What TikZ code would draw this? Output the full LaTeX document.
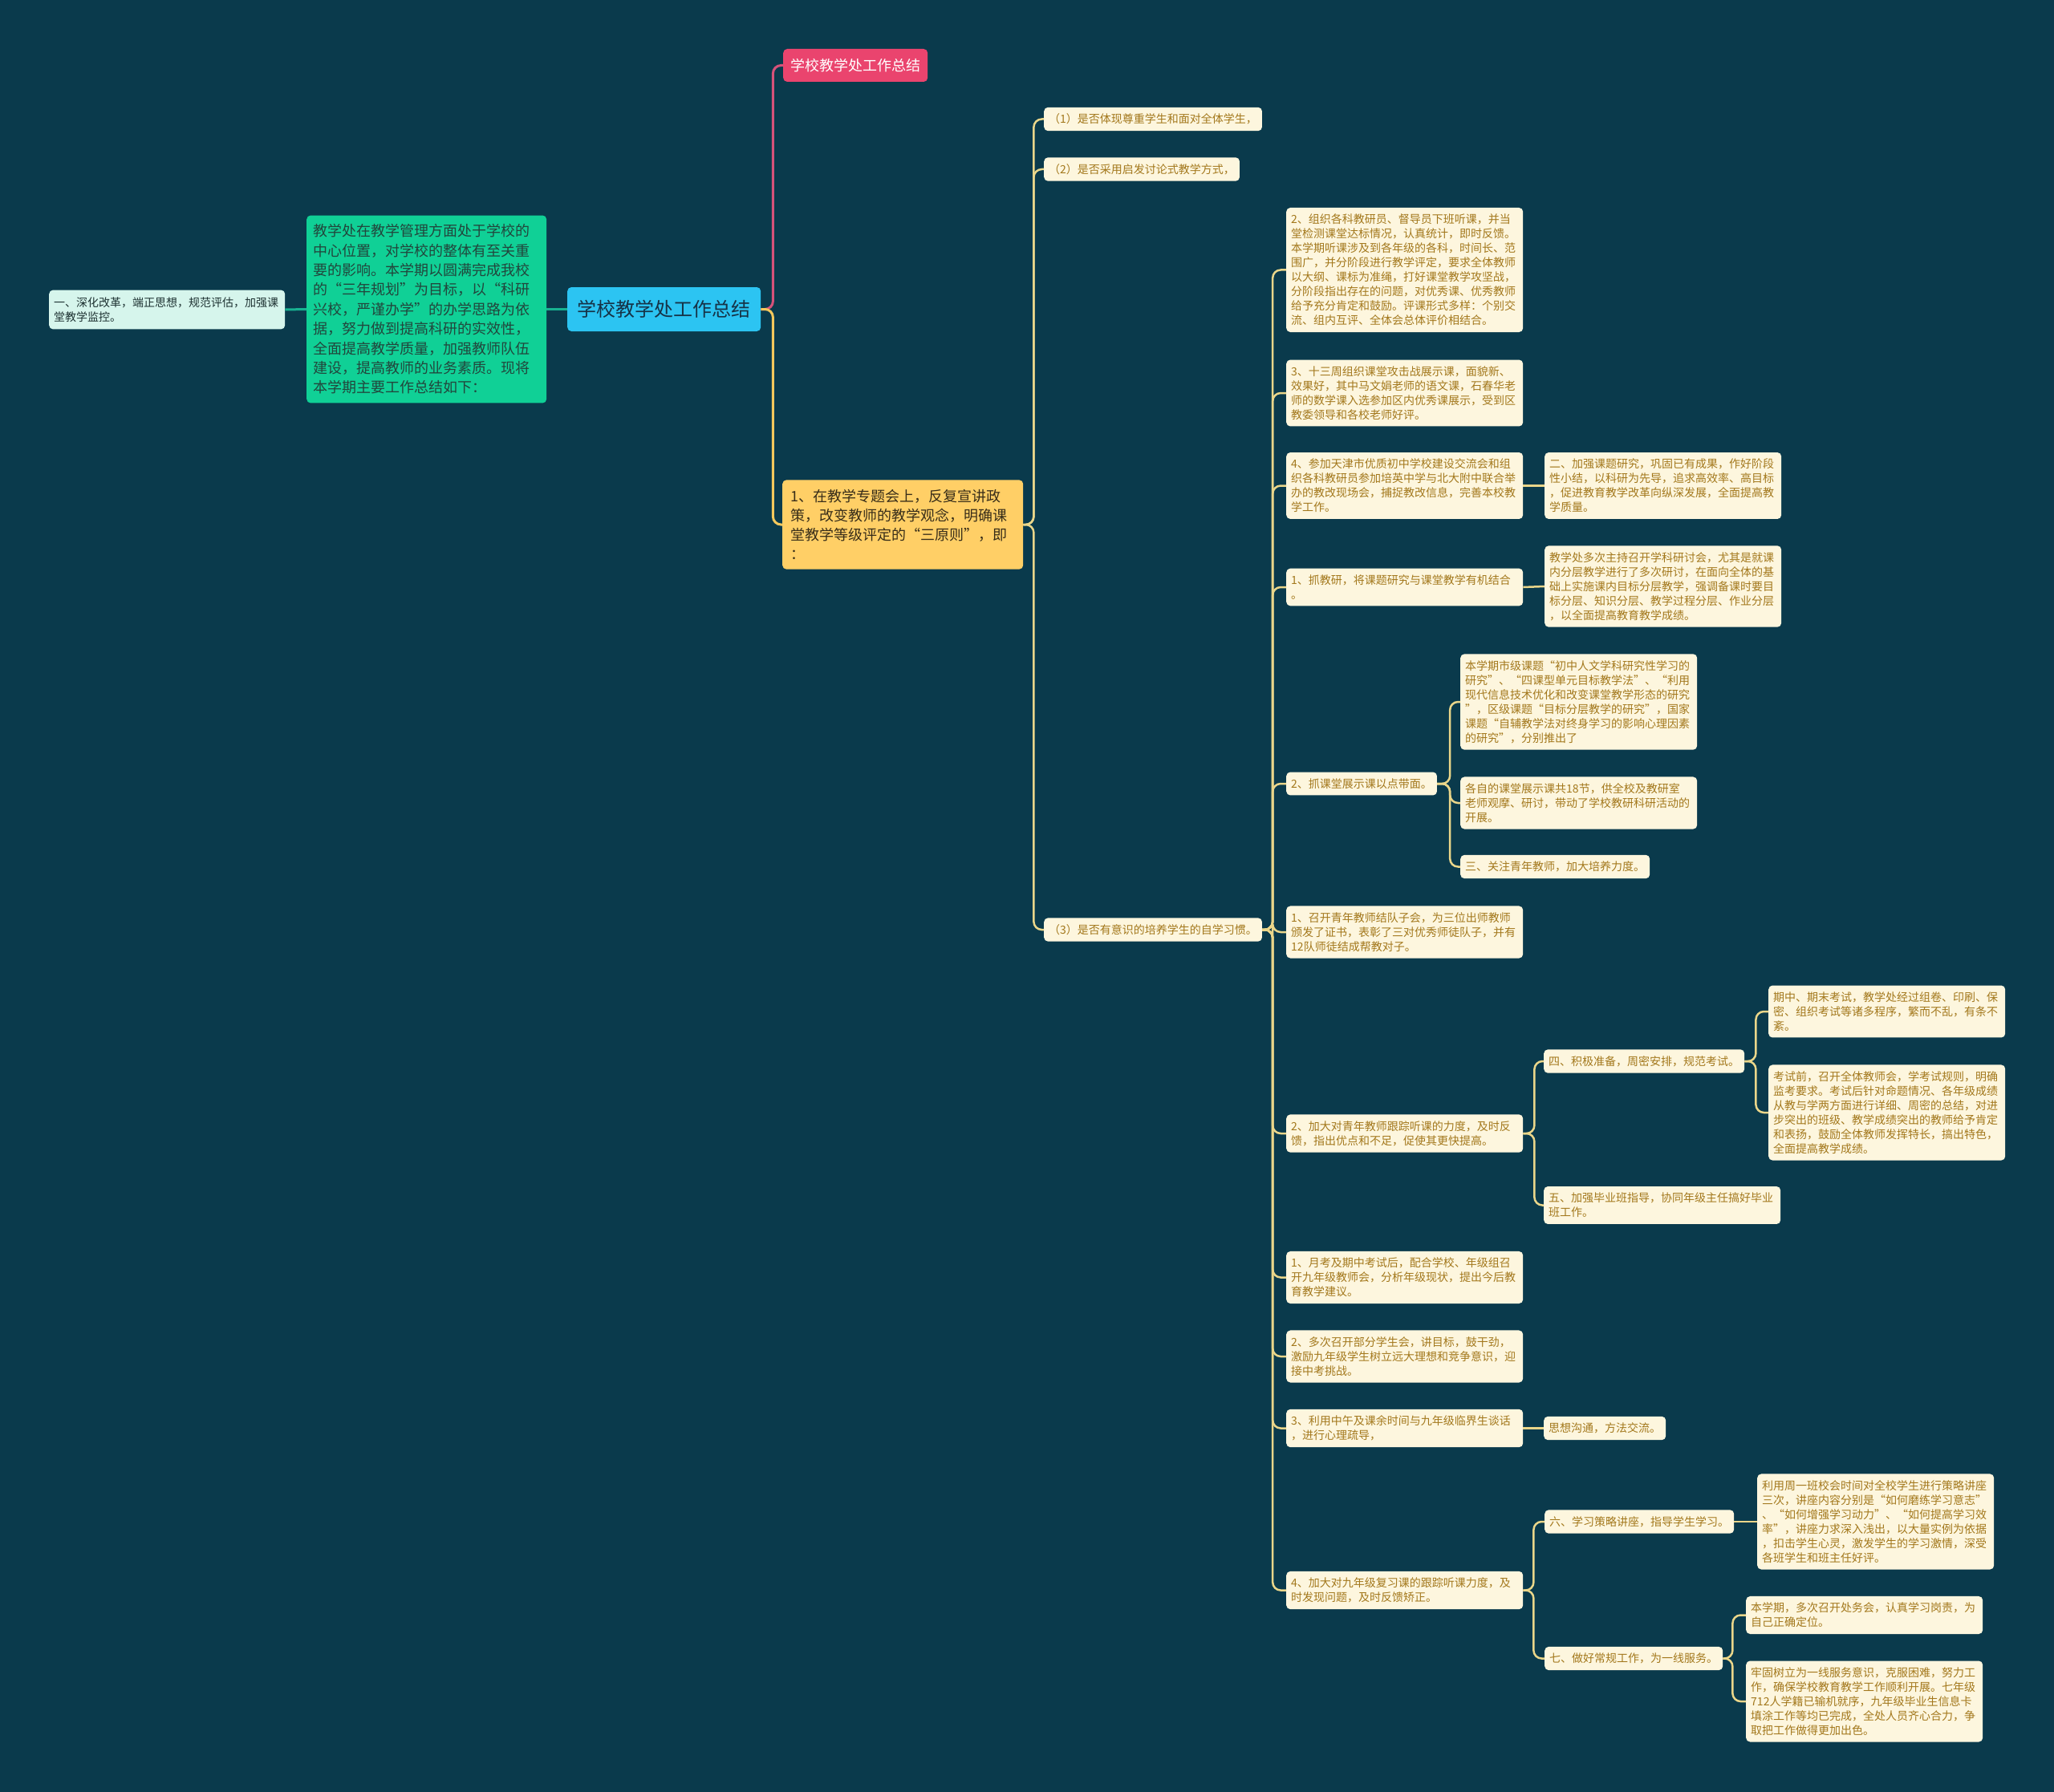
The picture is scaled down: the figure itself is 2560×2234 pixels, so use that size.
\documentclass[tikz,border=0pt]{standalone}
\usepackage{fontspec}
\setmainfont{Noto Sans CJK SC}

\definecolor{bgteal}{RGB}{10,58,76}
\definecolor{rootblue}{RGB}{44,196,242}
\definecolor{rootink}{RGB}{22,50,70}
\definecolor{titlered}{RGB}{234,68,110}
\definecolor{introgreen}{RGB}{16,208,150}
\definecolor{introink}{RGB}{34,70,60}
\definecolor{mintfill}{RGB}{214,245,236}
\definecolor{mintink}{RGB}{30,50,50}
\definecolor{mainyellow}{RGB}{255,207,102}
\definecolor{mainink}{RGB}{55,45,25}
\definecolor{creamfill}{RGB}{253,246,222}
\definecolor{creamink}{RGB}{163,120,28}
\definecolor{greenline}{RGB}{24,178,145}
\definecolor{pinkline}{RGB}{214,82,122}
\definecolor{yellowline}{RGB}{244,200,92}
\definecolor{beigeline}{RGB}{234,214,138}

\begin{document}
\begin{tikzpicture}[x=1pt, y=-1pt,
  card/.style={anchor=west, rounded corners=5pt},
  rootnode/.style={card, fill=rootblue, text=rootink, minimum width=241pt, minimum height=55pt, font=\fontsize{24}{28}\selectfont},
  titlenode/.style={card, fill=titlered, text=white, minimum width=180pt, minimum height=41pt, font=\fontsize{18}{22}\selectfont},
  intronode/.style={card, fill=introgreen, text=introink, text width=283pt, align=left, inner xsep=8pt, inner ysep=11pt, font=\fontsize{18}{24.4}\selectfont},
  mintnode/.style={card, fill=mintfill, text=mintink, text width=282pt, align=left, inner xsep=6pt, inner ysep=9pt, font=\fontsize{14}{18}\selectfont},
  mainnode/.style={card, fill=mainyellow, text=mainink, text width=280pt, align=left, inner xsep=10pt, inner ysep=12pt, font=\fontsize{18}{24}\selectfont},
  leafnode/.style={card, fill=creamfill, text=creamink, text width=283pt, align=left, inner xsep=6pt, inner ysep=8pt, font=\fontsize{14}{18}\selectfont},
  tagnode/.style={card, fill=creamfill, text=creamink, inner xsep=6pt, inner ysep=8pt, font=\fontsize{14}{18}\selectfont},
  greenlink/.style={draw=greenline, line width=3pt},
  pinklink/.style={draw=pinkline, line width=3pt, rounded corners=10pt},
  yellowlink/.style={draw=yellowline, line width=3pt, rounded corners=10pt},
  link/.style={draw=beigeline, line width=2.5pt, rounded corners=10pt},
]

%BACKGROUND
\fill[bgteal] (0,0) rectangle (2560,2234);
\useasboundingbox (0,0) rectangle (2560,2234);

%ROOT AND LEFT SIDE
\node[rootnode] (root) at (707,385.5) {学校教学处工作总结};
\node[intronode] (intro) at (382,385.5) {教学处在教学管理方面处于学校的\\中心位置，对学校的整体有至关重\\要的影响。本学期以圆满完成我校\\的“三年规划”为目标，以“科研\\兴校，严谨办学”的办学思路为依\\据，努力做到提高科研的实效性，\\全面提高教学质量，加强教师队伍\\建设，提高教师的业务素质。现将\\本学期主要工作总结如下：};
\node[mintnode] (deepen) at (61,386) {一、深化改革，端正思想，规范评估，加强课\\堂教学监控。};

%RIGHT SIDE
\node[titlenode] (title) at (976,81.5) {学校教学处工作总结};
\node[mainnode] (policy) at (975,654) {1、在教学专题会上，反复宣讲政\\策，改变教师的教学观念，明确课\\堂教学等级评定的“三原则”，即\\：};

\node[tagnode] (q1) at (1301,148.5) {（1）是否体现尊重学生和面对全体学生，};
\node[tagnode] (q2) at (1301,211) {（2）是否采用启发讨论式教学方式，};
\node[tagnode] (q3) at (1301,1159) {（3）是否有意识的培养学生的自学习惯。};

%COLUMN UNDER (3)
\node[leafnode] (listen) at (1603,336.5) {2、组织各科教研员、督导员下班听课，并当\\堂检测课堂达标情况，认真统计，即时反馈。\\本学期听课涉及到各年级的各科，时间长、范\\围广，并分阶段进行教学评定，要求全体教师\\以大纲、课标为准绳，打好课堂教学攻坚战，\\分阶段指出存在的问题，对优秀课、优秀教师\\给予充分肯定和鼓励。评课形式多样：个别交\\流、组内互评、全体会总体评价相结合。};
\node[leafnode] (showclass) at (1603,490) {3、十三周组织课堂攻击战展示课，面貌新、\\效果好，其中马文娟老师的语文课，石春华老\\师的数学课入选参加区内优秀课展示，受到区\\教委领导和各校老师好评。};
\node[leafnode] (tianjin) at (1603,605.5) {4、参加天津市优质初中学校建设交流会和组\\织各科教研员参加培英中学与北大附中联合举\\办的教改现场会，捕捉教改信息，完善本校教\\学工作。};
\node[leafnode] (topic) at (1925,605.5) {二、加强课题研究，巩固已有成果，作好阶段\\性小结，以科研为先导，追求高效率、高目标\\，促进教育教学改革向纵深发展，全面提高教\\学质量。};
\node[leafnode] (research) at (1603,732) {1、抓教研，将课题研究与课堂教学有机结合\\。};
\node[leafnode] (seminar) at (1925,731) {教学处多次主持召开学科研讨会，尤其是就课\\内分层教学进行了多次研讨，在面向全体的基\\础上实施课内目标分层教学，强调备课时要目\\标分层、知识分层、教学过程分层、作业分层\\，以全面提高教育教学成绩。};
\node[tagnode] (demo) at (1603,977) {2、抓课堂展示课以点带面。};
\node[leafnode] (cityproj) at (1820,875) {本学期市级课题“初中人文学科研究性学习的\\研究”、“四课型单元目标教学法”、“利用\\现代信息技术优化和改变课堂教学形态的研究\\”，区级课题“目标分层教学的研究”，国家\\课题“自辅教学法对终身学习的影响心理因素\\的研究”，分别推出了};
\node[leafnode] (eighteen) at (1820,1001) {各自的课堂展示课共18节，供全校及教研室\\老师观摩、研讨，带动了学校教研科研活动的\\开展。};
\node[tagnode] (young) at (1820,1080.5) {三、关注青年教师，加大培养力度。};
\node[leafnode] (mentor) at (1603,1162) {1、召开青年教师结队子会，为三位出师教师\\颁发了证书，表彰了三对优秀师徒队子，并有\\12队师徒结成帮教对子。};
\node[leafnode] (track) at (1603,1413) {2、加大对青年教师跟踪听课的力度，及时反\\馈，指出优点和不足，促使其更快提高。};
\node[tagnode] (exam) at (1924,1323) {四、积极准备，周密安排，规范考试。};
\node[leafnode] (midterm) at (2204,1261) {期中、期末考试，教学处经过组卷、印刷、保\\密、组织考试等诸多程序，繁而不乱，有条不\\紊。};
\node[leafnode] (beforeexam) at (2204,1387) {考试前，召开全体教师会，学考试规则，明确\\监考要求。考试后针对命题情况、各年级成绩\\从教与学两方面进行详细、周密的总结，对进\\步突出的班级、教学成绩突出的教师给予肯定\\和表扬，鼓励全体教师发挥特长，搞出特色，\\全面提高教学成绩。};
\node[leafnode] (graduate) at (1924,1502.5) {五、加强毕业班指导，协同年级主任搞好毕业\\班工作。};
\node[leafnode] (monthly) at (1603,1592.5) {1、月考及期中考试后，配合学校、年级组召\\开九年级教师会，分析年级现状，提出今后教\\育教学建议。};
\node[leafnode] (students) at (1603,1691) {2、多次召开部分学生会，讲目标，鼓干劲，\\激励九年级学生树立远大理想和竞争意识，迎\\接中考挑战。};
\node[leafnode] (talk) at (1603,1780.5) {3、利用中午及课余时间与九年级临界生谈话\\，进行心理疏导，};
\node[tagnode] (exchange) at (1924,1780.5) {思想沟通，方法交流。};
\node[leafnode] (review) at (1603,1982.5) {4、加大对九年级复习课的跟踪听课力度，及\\时发现问题，及时反馈矫正。};
\node[tagnode] (strategy) at (1925,1897) {六、学习策略讲座，指导学生学习。};
\node[leafnode] (lecture) at (2190,1897) {利用周一班校会时间对全校学生进行策略讲座\\三次，讲座内容分别是“如何磨练学习意志”\\、“如何增强学习动力”、“如何提高学习效\\率”，讲座力求深入浅出，以大量实例为依据\\，扣击学生心灵，激发学生的学习激情，深受\\各班学生和班主任好评。};
\node[tagnode] (routine) at (1925,2067.5) {七、做好常规工作，为一线服务。};
\node[leafnode] (office) at (2176,2013.5) {本学期，多次召开处务会，认真学习岗责，为\\自己正确定位。};
\node[leafnode] (frontline) at (2176,2121) {牢固树立为一线服务意识，克服困难，努力工\\作，确保学校教育教学工作顺利开展。七年级\\712人学籍已输机就序，九年级毕业生信息卡\\填涂工作等均已完成，全处人员齐心合力，争\\取把工作做得更加出色。};

%CONNECTORS
\draw[greenlink] (root.west) -- (intro.east);
\draw[greenlink] (intro.west) -- (deepen.east);
\draw[pinklink] (root.east) -- ++(15,0) |- (title.west);
\draw[yellowlink] (root.east) -- ++(15,0) |- (policy.west);

\draw[link] (policy.east) -- ++(13,0) |- (q1.west);
\draw[link] (policy.east) -- ++(13,0) |- (q2.west);
\draw[link] (policy.east) -- ++(13,0) |- (q3.west);

\draw[link] (q3.east) -- ++(13,0) |- (listen.west);
\draw[link] (q3.east) -- ++(13,0) |- (showclass.west);
\draw[link] (q3.east) -- ++(13,0) |- (tianjin.west);
\draw[link] (q3.east) -- ++(13,0) |- (research.west);
\draw[link] (q3.east) -- ++(13,0) |- (demo.west);
\draw[link] (q3.east) -- ++(13,0) |- (mentor.west);
\draw[link] (q3.east) -- ++(13,0) |- (track.west);
\draw[link] (q3.east) -- ++(13,0) |- (monthly.west);
\draw[link] (q3.east) -- ++(13,0) |- (students.west);
\draw[link] (q3.east) -- ++(13,0) |- (talk.west);
\draw[link] (q3.east) -- ++(13,0) |- (review.west);

\draw[link] (tianjin.east) -- (topic.west);
\draw[link] (research.east) -- (seminar.west);
\draw[link] (demo.east) -- ++(16,0) |- (cityproj.west);
\draw[link] (demo.east) -- ++(16,0) |- (eighteen.west);
\draw[link] (demo.east) -- ++(16,0) |- (young.west);
\draw[link] (track.east) -- ++(14,0) |- (exam.west);
\draw[link] (track.east) -- ++(14,0) |- (graduate.west);
\draw[link] (exam.east) -- ++(14,0) |- (midterm.west);
\draw[link] (exam.east) -- ++(14,0) |- (beforeexam.west);
\draw[link] (talk.east) -- (exchange.west);
\draw[link] (review.east) -- ++(13,0) |- (strategy.west);
\draw[link] (review.east) -- ++(13,0) |- (routine.west);
\draw[link] (strategy.east) -- (lecture.west);
\draw[link] (routine.east) -- ++(12,0) |- (office.west);
\draw[link] (routine.east) -- ++(12,0) |- (frontline.west);

\end{tikzpicture}
\end{document}
